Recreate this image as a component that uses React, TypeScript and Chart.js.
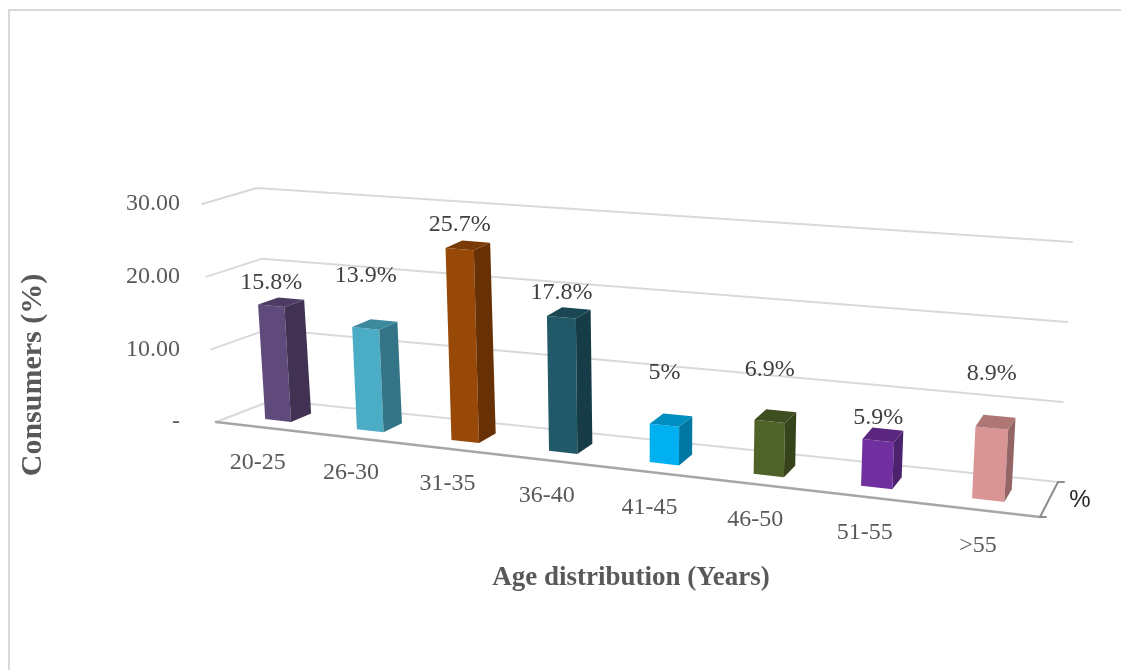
import React, { useEffect, useRef } from 'react';
import { Chart, registerables } from 'chart.js';

Chart.register(...registerables);

// ---------- data ----------
const categories = ['20-25', '26-30', '31-35', '36-40', '41-45', '46-50', '51-55', '>55'];
const consumerShare = [15.8, 13.9, 25.7, 17.8, 5, 6.9, 5.9, 8.9];
const yTickValues = [0, 10, 20, 30];
const barColors = ['#5f4a7b', '#4bacc6', '#984807', '#215968', '#00b0f0', '#4f6228', '#7030a0', '#d99594'];

// ---------- style ----------
const SERIF = "'Liberation Serif', 'Times New Roman', serif";
const SANS = "'Liberation Sans', Arial, sans-serif";
const LABEL_LIFT_PX = [23, 53, 24, 25, 52, 52, 23, 54];
const BAR_DEPTH = { front: 0.3, back: 0.67 };
const PERSPECTIVE_C = 0.88; // horizontal foreshortening (far left side compressed)

function shade(hex: string, f: number) {
  const h = hex.replace('#', '');
  const r = Math.round(parseInt(h.slice(0, 2), 16) * f);
  const g = Math.round(parseInt(h.slice(2, 4), 16) * f);
  const b = Math.round(parseInt(h.slice(4, 6), 16) * f);
  return `rgb(${r},${g},${b})`;
}

type Pt = [number, number];
const lerp = (a: Pt, b: Pt, t: number): Pt => [a[0] + (b[0] - a[0]) * t, a[1] + (b[1] - a[1]) * t];
const warp = (t: number) => (PERSPECTIVE_C * t) / (1 - (1 - PERSPECTIVE_C) * t);

function makeProjector(ca: any) {
  const FLB: Pt = [ca.left, ca.bottom];
  const FLT: Pt = [ca.left - 14, ca.top];
  const FRB: Pt = [ca.right, ca.bottom + 95];
  const FRT: Pt = [ca.right + 14, ca.top + 66];
  const BLB: Pt = [FLB[0] + 57, FLB[1] - 22];
  const BLT: Pt = [FLT[0] + 55, FLT[1] - 16];
  const BRB: Pt = [FRB[0] + 18, FRB[1] - 35];
  const BRT: Pt = [FRT[0] + 18, FRT[1] - 28];
  return (X: number, Y: number, Z: number): Pt => {
    const bl = lerp(FLB, BLB, Z), br = lerp(FRB, BRB, Z);
    const tl = lerp(FLT, BLT, Z), tr = lerp(FRT, BRT, Z);
    return lerp(lerp(bl, br, X), lerp(tl, tr, X), Y);
  };
}

const perspectivePlugin = {
  id: 'perspective3d',
  beforeDraw(chart: any) {
    const ctx = chart.ctx;
    ctx.save();
    ctx.strokeStyle = '#d9d9d9';
    ctx.lineWidth = 2;
    ctx.beginPath();
    ctx.moveTo(9, 670);
    ctx.lineTo(9, 10);
    ctx.lineTo(1121, 10);
    ctx.stroke();
    ctx.restore();
  },
  beforeDatasetsDraw(chart: any) {
    const ctx = chart.ctx;
    const ca = chart.chartArea;
    const ys = chart.scales.y;
    const xs = chart.scales.x;
    const P = makeProjector(ca);
    const nx = (px: number) => warp((px - ca.left) / (ca.right - ca.left));
    const ny = (py: number) => (ca.bottom - py) / (ca.bottom - ca.top);

    const path = (pts: Pt[], close = false) => {
      ctx.beginPath();
      pts.forEach((p, i) => (i ? ctx.lineTo(p[0], p[1]) : ctx.moveTo(p[0], p[1])));
      if (close) ctx.closePath();
    };

    ctx.save();
    ctx.lineCap = 'round';
    ctx.lineJoin = 'round';
    // walls' gridlines
    ctx.strokeStyle = '#d9d9d9';
    ctx.lineWidth = 2;
    ys.ticks.forEach((t: any) => {
      const Y = ny(ys.getPixelForValue(t.value));
      path([P(0, Y, 0), P(0, Y, 1), P(1, Y, 1)]);
      ctx.stroke();
    });
    // floor front edge
    ctx.strokeStyle = '#a6a6a6';
    ctx.lineWidth = 2.5;
    path([P(0, 0, 0), P(1, 0, 0)]);
    ctx.stroke();
    // depth axis (right floor edge) with ticks
    ctx.strokeStyle = '#8c8c8c';
    ctx.lineWidth = 2;
    const r0 = P(1, 0, 0), r1 = P(1, 0, 1);
    path([[r0[0] + 6, r0[1]], r0, r1, [r1[0] + 6, r1[1]]]);
    ctx.stroke();

    // 3D bars
    const meta = chart.getDatasetMeta(0);
    const colors = chart.data.datasets[0].backgroundColor as string[];
    const { front: Z0, back: Z1 } = BAR_DEPTH;
    const tops: Pt[] = [];
    meta.data.forEach((el: any, i: number) => {
      const { x, y, base, width } = el.getProps(['x', 'y', 'base', 'width'], true);
      const X0 = nx(x - width / 2), X1 = nx(x + width / 2);
      const Yb = ny(base), Yt = ny(y);
      const col = colors[i];
      ctx.fillStyle = col;
      path([P(X0, Yb, Z0), P(X1, Yb, Z0), P(X1, Yt, Z0), P(X0, Yt, Z0)], true);
      ctx.fill();
      ctx.fillStyle = shade(col, 0.68);
      path([P(X1, Yb, Z0), P(X1, Yb, Z1), P(X1, Yt, Z1), P(X1, Yt, Z0)], true);
      ctx.fill();
      ctx.fillStyle = shade(col, 0.8);
      path([P(X0, Yt, Z0), P(X1, Yt, Z0), P(X1, Yt, Z1), P(X0, Yt, Z1)], true);
      ctx.fill();
      tops.push(P((X0 + X1) / 2, Yt, Z0));
    });

    // value labels
    const values = chart.data.datasets[0].data as number[];
    ctx.font = `24px ${SERIF}`;
    ctx.fillStyle = '#404040';
    ctx.textAlign = 'center';
    ctx.textBaseline = 'middle';
    values.forEach((v, i) => {
      const p = tops[i];
      ctx.fillText(`${v}%`, p[0], p[1] - LABEL_LIFT_PX[i]);
    });

    // category labels along the floor front edge
    ctx.fillStyle = '#595959';
    (chart.data.labels as string[]).forEach((lab, i) => {
      const X = nx(xs.getPixelForValue(i));
      const p = P(X, 0, 0);
      ctx.fillText(lab, p[0] - 4, p[1] + 35);
    });

    // depth axis label
    ctx.font = `24px ${SANS}`;
    ctx.fillStyle = '#262626';
    const pm = P(1, 0, 0.5);
    ctx.fillText('%', pm[0] + 31, pm[1] + 1);
    ctx.restore();
    return false;
  },
  afterDraw(chart: any) {
    const ctx = chart.ctx;
    ctx.save();
    ctx.fillStyle = '#595959';
    ctx.textAlign = 'center';
    ctx.textBaseline = 'middle';
    ctx.font = `bold 27px ${SERIF}`;
    ctx.fillText('Age distribution (Years)', 631, 578);
    ctx.translate(33, 375);
    ctx.rotate(-Math.PI / 2);
    ctx.font = `bold 30px ${SERIF}`;
    ctx.fillText('Consumers (%)', 0, 0);
    ctx.restore();
  },
};

export default function App() {
  const ref = useRef<HTMLCanvasElement | null>(null);
  useEffect(() => {
    if (!ref.current) return;
    const chart = new Chart(ref.current, {
      type: 'bar',
      data: {
        labels: categories,
        datasets: [
          {
            label: '%',
            data: consumerShare,
            backgroundColor: barColors,
            categoryPercentage: 1,
            barPercentage: 0.285,
          },
        ],
      },
      options: {
        animation: false,
        responsive: false,
        layout: { padding: { top: 204, bottom: 248, left: 100, right: 81 } },
        plugins: { legend: { display: false }, tooltip: { enabled: false }, title: { display: false } },
        scales: {
          x: { display: false, offset: true },
          y: {
            min: 0,
            max: 30,
            afterBuildTicks: (scale: any) => {
              scale.ticks = yTickValues.map((v) => ({ value: v }));
            },
            afterFit: (scale: any) => {
              scale.width = 116;
            },
            grid: { display: false, drawTicks: false },
            border: { display: false },
            ticks: {
              padding: 36,
              color: '#595959',
              font: { family: SERIF, size: 24 },
              callback: (v: any) => (Number(v) === 0 ? '-' : Number(v).toFixed(2)),
            },
          },
        },
      },
      plugins: [perspectivePlugin],
    });
    return () => chart.destroy();
  }, []);
  return (
    <div style={{ position: 'fixed', left: 0, top: 0, width: 1121, height: 670, background: '#fff' }}>
      <canvas ref={ref} width={1121} height={670} style={{ display: 'block' }} />
    </div>
  );
}
